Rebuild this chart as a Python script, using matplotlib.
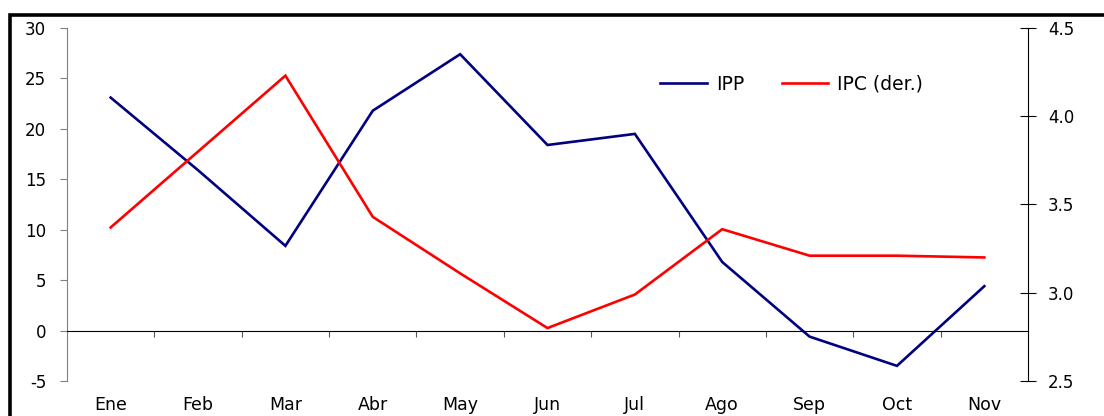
import matplotlib
matplotlib.use('Agg')
import matplotlib.pyplot as plt
import matplotlib.patches as mpatches
import matplotlib.transforms as mtransforms

# Datos
meses = ['Ene', 'Feb', 'Mar', 'Abr', 'May', 'Jun', 'Jul', 'Ago', 'Sep', 'Oct', 'Nov']
ipp = [23.1, 15.9, 8.4, 21.8, 27.4, 18.4, 19.5, 6.8, -0.6, -3.5, 4.4]
ipc = [3.37, 3.80, 4.23, 3.43, 3.11, 2.80, 2.99, 3.36, 3.21, 3.21, 3.20]

izq_ticks = [-5, 0, 5, 10, 15, 20, 25, 30]
der_ticks = [2.5, 3.0, 3.5, 4.0, 4.5]

plt.rcParams['font.family'] = ['DejaVu Sans']

fig = plt.figure(figsize=(11.04, 4.16), dpi=100)
ax = fig.add_axes([67/1104, 1-381/416, (1028-67)/1104, (381-28)/416])
ax2 = ax.twinx()

x = list(range(len(meses)))
l1, = ax.plot(x, ipp, color='#000080', lw=1.9, label='IPP', solid_joinstyle='miter')
l2, = ax2.plot(x, ipc, color='#FF0000', lw=1.9, label='IPC (der.)', solid_joinstyle='miter')

ax.set_xlim(-0.5, len(meses) - 0.5)
ax.set_ylim(-5, 30)
ax2.set_ylim(2.5, 4.5)
ax.set_yticks(izq_ticks)
ax.set_yticklabels([str(v) for v in izq_ticks])
ax2.set_yticks(der_ticks)
ax2.set_yticklabels(['%.1f' % v for v in der_ticks])

# Eje izquierdo gris
for s in ['top', 'right']:
    ax.spines[s].set_visible(False)
ax.spines['left'].set_color('#808080')
ax.tick_params(axis='y', direction='out', length=5, color='#808080', pad=10, labelsize=12)

# Eje derecho
for s in ['top', 'left', 'bottom']:
    ax2.spines[s].set_visible(False)
ax2.spines['right'].set_color('black')
ax2.tick_params(axis='y', direction='inout', length=11, color='black', pad=9, labelsize=12)

# Eje x en cero con marcas entre meses
ax.spines['bottom'].set_position(('data', 0))
ax.spines['bottom'].set_color('black')
ax.set_xticks([i + 0.5 for i in range(len(meses) - 1)])
ax.set_xticklabels([])
ax.tick_params(axis='x', direction='out', length=4, color='#555555')

trans = mtransforms.blended_transform_factory(ax.transData, ax.transAxes)
for i, m in enumerate(meses):
    ax.text(i, -0.068, m, transform=trans, ha='center', va='center', fontsize=12.5)

ax.legend(handles=[l1, l2], ncol=2, frameon=False, loc='center',
          bbox_to_anchor=(0.754, 0.841), fontsize=13.5, handlelength=2.5,
          columnspacing=2.0, handletextpad=0.45)

# Marco negro grueso
fig.add_artist(mpatches.Rectangle((9.5/1104, -0.5), 2, 0.5 + 1 - 15/416,
                                  transform=fig.transFigure, fill=False,
                                  edgecolor='black', lw=2.6))

fig.savefig('out.png', dpi=100)
